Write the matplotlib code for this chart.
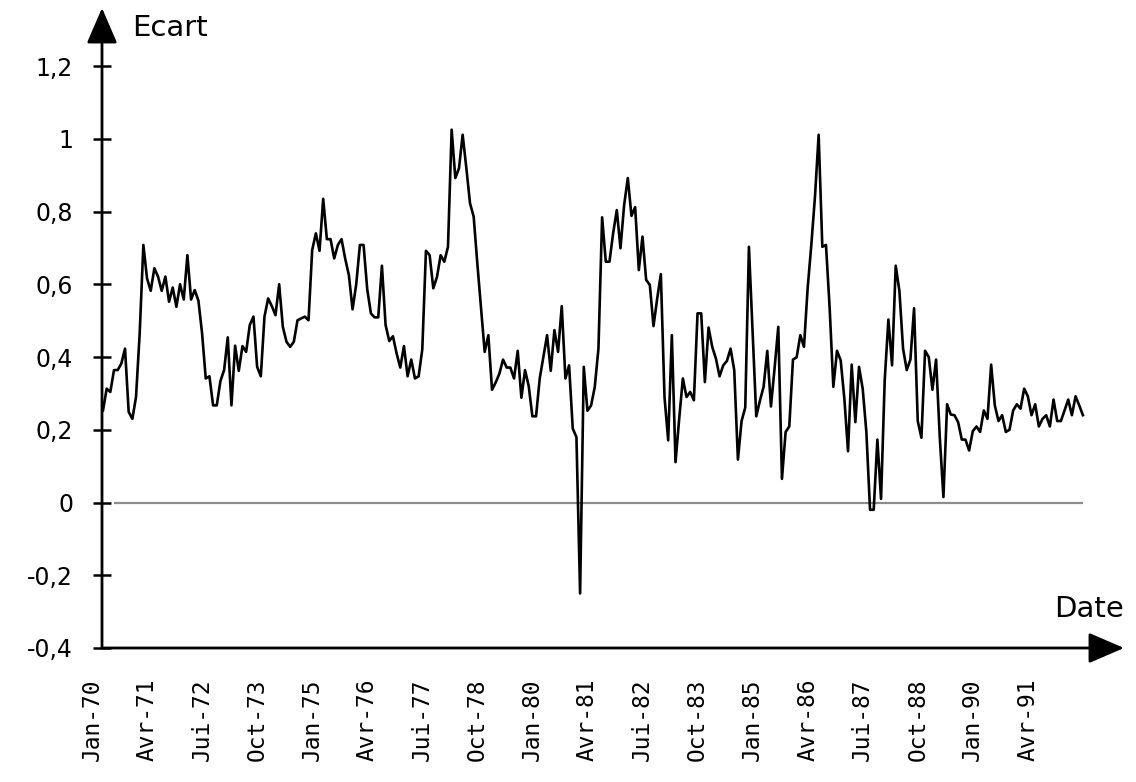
import matplotlib
matplotlib.use("Agg")
import matplotlib.pyplot as plt
import matplotlib.transforms as mtransforms
import numpy as np

plt.rcParams['font.family'] = ['DejaVu Sans']

# monthly values, Jan-70 .. Apr-92
ecart = [
    .253, .313, .304, .364, .364, .382, .423, .249, .230, .290,
    .465, .708, .616, .582, .644, .621, .582, .621, .552, .591,
    .538, .600, .558, .680, .558, .584, .555, .465, .341, .347,
    .267, .267, .334, .364, .454, .267, .431, .362, .430, .414,
    .488, .511, .373, .347, .511, .561, .540, .515, .600, .483,
    .442, .428, .442, .501, .506, .511, .501, .694, .740, .692,
    .835, .724, .724, .671, .708, .724, .670, .625, .531, .600,
    .708, .708, .586, .520, .509, .509, .651, .488, .444, .457,
    .410, .371, .430, .347, .393, .341, .347, .421, .692, .680,
    .589, .620, .680, .662, .703, 1.025, .892, .919, 1.011, .920,
    .823, .786, .657, .534, .414, .460, .310, .330, .354, .393,
    .371, .371, .341, .417, .288, .364, .320, .237, .237, .341,
    .400, .460, .362, .474, .414, .540, .341, .377, .203, .180,
    -.250, .373, .252, .267, .318, .423, .784, .662, .662, .740,
    .804, .699, .818, .892, .788, .812, .639, .731, .612, .598,
    .485, .560, .628, .290, .171, .460, .111, .230, .341, .290,
    .304, .281, .520, .520, .331, .481, .428, .396, .347, .377,
    .389, .423, .364, .118, .224, .261, .703, .470, .237, .280,
    .318, .417, .264, .370, .483, .065, .194, .209, .393, .399,
    .460, .428, .589, .708, .841, 1.011, .703, .708, .534, .318,
    .417, .391, .286, .141, .379, .221, .373, .313, .194, -.020,
    -.020, .173, .010, .336, .503, .377, .651, .582, .423, .364,
    .393, .534, .224, .178, .417, .400, .310, .393, .180, .015,
    .270, .242, .240, .221, .173, .173, .143, .196, .209, .194,
    .253, .230, .379, .267, .224, .240, .194, .200, .253, .270,
    .258, .313, .292, .240, .270, .209, .230, .240, .209, .283,
    .224, .224, .253, .283, .240, .292, .267, .240,
]

mois = ["Jan", "Fév", "Mar", "Avr", "Mai", "Jui",
        "Jui", "Aoû", "Sep", "Oct", "Nov", "Déc"]
start_year = 70
label_step = 15

y_ticks = [-0.4, -0.2, 0, 0.2, 0.4, 0.6, 0.8, 1, 1.2]
y_labels = ["-0,4", "-0,2", "0", "0,2", "0,4", "0,6", "0,8", "1", "1,2"]

n = len(ecart)
x = np.arange(n)
tick_pos = list(range(0, n, label_step))
tick_lab = ["%s-%02d" % (mois[i % 12], start_year + i // 12) for i in tick_pos]

fig = plt.figure(figsize=(11.36, 7.82), dpi=100)
ax = fig.add_axes([102 / 1136, 134 / 782, 1022 / 1136, 640 / 782])

ax.hlines(0, 3, n - 1, color='#8c8c8c', lw=1.6, zorder=1)
ax.plot(x, ecart, color='black', lw=1.9, zorder=2)

ax.set_xlim(-0.27, 278.2)
ax.set_ylim(-0.4, 1.3595)

for s in ax.spines.values():
    s.set_visible(False)

# axes drawn as arrows
arrow = dict(arrowstyle='-|>,head_length=2.2,head_width=0.95', color='black',
             lw=2, mutation_scale=10, shrinkA=0, shrinkB=0)
ax.annotate('', xy=(0, 1), xytext=(0, 0), xycoords='axes fraction',
            textcoords='axes fraction', arrowprops=arrow, annotation_clip=False)
ax.annotate('', xy=(1, 0), xytext=(0, 0), xycoords='axes fraction',
            textcoords='axes fraction', arrowprops=arrow, annotation_clip=False)

ax.set_yticks(y_ticks)
ax.set_yticklabels(y_labels, fontsize=17)
ax.tick_params(axis='y', direction='inout', length=13.5, width=1.8, pad=14)

ax.set_xticks(tick_pos)
ax.set_xticklabels(tick_lab, rotation=90, fontsize=16.5, family='DejaVu Sans Mono')
ax.tick_params(axis='x', length=0, pad=22)
shift = mtransforms.ScaledTranslation(-11 / 100, 0, fig.dpi_scale_trans)
for lab in ax.get_xticklabels():
    lab.set_transform(lab.get_transform() + shift)

fig.text(132 / 1136, 1 - 28 / 782, "Ecart", fontsize=21, va='center', ha='left')
fig.text(1124 / 1136, 1 - 609 / 782, "Date", fontsize=21, va='center', ha='right')

plt.savefig("out.png", dpi=100)
